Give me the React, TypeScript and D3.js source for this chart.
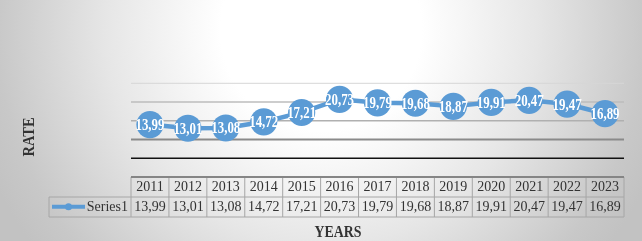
import React from "react";
import * as d3 from "d3";

const years = ["2011","2012","2013","2014","2015","2016","2017","2018","2019","2020","2021","2022","2023"];
const values = [13.99,13.01,13.08,14.72,17.21,20.73,19.79,19.68,18.87,19.91,20.47,19.47,16.89];
const gridValues = [25, 20, 15, 10, 5];
const seriesName = "Series1";
const xTitle = "YEARS";
const yTitle = "RATE";

const W = 642, H = 241;
const fmt = (v: number) => v.toFixed(2).replace(".", ",");

export default function App() {
  const x = d3.scaleBand<string>().domain(years).range([131, 624]).padding(0);
  const y = d3.scaleLinear().domain([0, 25]).range([177, 83.3]);
  const cx = (yr: string) => (x(yr) as number) + x.bandwidth() / 2;
  const line = d3.line<number>().x((_, i) => cx(years[i])).y((d) => y(d));
  const gridStyle: Record<number, [string, number]> = {
    25: ["#d6d6d6", 1],
    20: ["#bcbcbc", 1.5],
    15: ["#b0b0b0", 1.5],
    10: ["#8a8a8a", 2.2],
    5: ["#111111", 1.5],
  };
  const tTop = 177, r1 = 197, r2 = 217, legL = 49;
  const serif = "'Liberation Serif', 'Times New Roman', serif";
  return (
    <div style={{ position: "fixed", left: 0, top: 0, width: W, height: H }}>
      <svg width={W} height={H} style={{ display: "block" }}>
        <defs>
          <radialGradient id="bg" gradientUnits="userSpaceOnUse" cx={321} cy={30} r={360}>
            <stop offset="0" stopColor="#ffffff" />
            <stop offset="0.28" stopColor="#ffffff" />
            <stop offset="0.6" stopColor="#e6e6e6" />
            <stop offset="0.9" stopColor="#c8c8c8" />
            <stop offset="1" stopColor="#c2c2c2" />
          </radialGradient>
        </defs>
        <rect x={0} y={0} width={W} height={H} fill="url(#bg)" />
        {gridValues.map((g) => (
          <line key={g} x1={131} x2={624} y1={y(g)} y2={y(g)} stroke={gridStyle[g][0]} strokeWidth={gridStyle[g][1]} />
        ))}
        {/* table */}
        <g stroke="#a6a6a6" strokeWidth={1} fill="none">
          <line x1={legL} x2={624} y1={r1} y2={r1} />
          <line x1={legL} x2={624} y1={r2} y2={r2} />
          <line x1={legL} x2={legL} y1={r1} y2={r2} />
          {years.map((yr) => (
            <line key={yr} x1={x(yr) as number} x2={x(yr) as number} y1={tTop} y2={r2} />
          ))}
          <line x1={624} x2={624} y1={tTop} y2={r2} />
        </g>
        <line x1={131} x2={624} y1={tTop} y2={tTop} stroke="#858585" strokeWidth={2} />
        <g fontFamily={serif} fontSize={14} fill="#333" textAnchor="middle">
          {years.map((yr, i) => (
            <g key={yr}>
              <text x={cx(yr)} y={190.9}>{yr}</text>
              <text x={cx(yr)} y={210.9}>{fmt(values[i])}</text>
            </g>
          ))}
          <text x={128} y={210.9} textAnchor="end">{seriesName}</text>
        </g>
        <line x1={52} x2={85} y1={206.7} y2={206.7} stroke="#5b9bd5" strokeWidth={4} />
        <circle cx={68.5} cy={206.7} r={3.5} fill="#5b9bd5" />
        {/* series */}
        <path d={line(values) as string} fill="none" stroke="#5b9bd5" strokeWidth={4.5} strokeLinejoin="round" />
        {values.map((v, i) => (
          <circle key={i} cx={cx(years[i])} cy={y(v)} r={13.6} fill="#5b9bd5" />
        ))}
        <g fontFamily={serif} fontSize={16} fontWeight="bold" fill="#ffffff" textAnchor="middle">
          {values.map((v, i) => (
            <text key={i} x={cx(years[i])} y={y(v) + 5.5} textLength={29} lengthAdjust="spacingAndGlyphs">{fmt(v)}</text>
          ))}
        </g>
        <text x={338} y={236.5} fontFamily={serif} fontSize={16} fontWeight="bold" fill="#333" textAnchor="middle" textLength={47} lengthAdjust="spacingAndGlyphs">{xTitle}</text>
        <text transform="translate(33.5,137) rotate(-90)" fontFamily={serif} fontSize={16} fontWeight="bold" fill="#333" textAnchor="middle" textLength={39} lengthAdjust="spacingAndGlyphs">{yTitle}</text>
      </svg>
    </div>
  );
}
